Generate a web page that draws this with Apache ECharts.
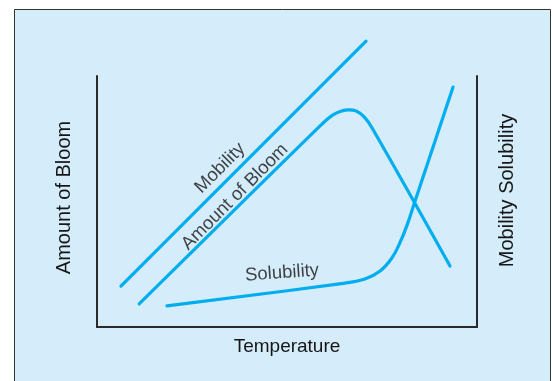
<!DOCTYPE html>
<html>
<head>
<meta charset="utf-8">
<script src="https://cdn.jsdelivr.net/npm/echarts@6/dist/echarts.min.js"></script>
<style>
html,body{margin:0;padding:0;background:#fff;}
#c{width:552px;height:381px;}
</style>
</head>
<body>
<div id="c"></div>
<script>
// Data in arbitrary units (Temperature 0-100, relative amount 0-100)
const mobility = [[6.3, 16.3], [70.8, 113.9]];
const bloom = [[11.1, 9.2], [58.7, 80.1], [62.1, 84.5], [64.5, 86.1], [66.3, 86.5], [68.2, 86.1], [70.3, 83.7], [72.4, 79.3], [92.9, 24.3]];
const solubility = [[18.4, 8.4], [65.3, 17.5], [70.5, 19.1], [74.5, 22.3], [77.6, 27.5], [79.7, 33.5], [81.6, 40.6], [83.7, 50.2], [93.7, 95.6]];
const curveLabels = ['Mobility', 'Amount of Bloom', 'Solubility'];
const xName = 'Temperature';
const yLeftName = 'Amount of Bloom';
const yRightName = 'Mobility Solubility';

// label anchors (data units) and rotations
const labelAnchors = [[32.4, 63.3], [36.3, 51.8], [48.7, 21.5]];
const labelRot = [45, 45, 4];

const FONT = 'Liberation Sans, Arial, Helvetica, sans-serif';
const LINE = '#00aeef';
const TXT = '#161616';
const chart = echarts.init(document.getElementById('c'), null, {renderer: 'canvas'});

const lineStyle = {color: LINE, width: 3.2, cap: 'round', join: 'round'};
const axisLine = {show: true, lineStyle: {color: '#2a2a2a', width: 2}};

chart.setOption({
  backgroundColor: '#ffffff',
  animation: false,
  graphic: [{
    type: 'rect', z: -10, silent: true,
    shape: {x: 14.5, y: 9.5, width: 536, height: 380},
    style: {fill: '#d5ecfa', stroke: '#333', lineWidth: 1}
  }],
  grid: {left: 97, right: 75, top: 76, bottom: 54},
  xAxis: {
    type: 'value', min: 0, max: 100,
    axisLine: axisLine, axisTick: {show: false}, axisLabel: {show: false}, splitLine: {show: false},
    name: xName, nameLocation: 'middle', nameGap: 10,
    nameTextStyle: {color: TXT, fontSize: 19, fontFamily: FONT, verticalAlign: 'top'}
  },
  yAxis: [{
    type: 'value', min: 0, max: 100, position: 'left',
    axisLine: axisLine, axisTick: {show: false}, axisLabel: {show: false}, splitLine: {show: false},
    name: yLeftName, nameLocation: 'middle', nameGap: 23, nameRotate: 90,
    nameTextStyle: {color: TXT, fontSize: 20, fontFamily: FONT, padding: [0, 0, 0, 8]}
  }, {
    type: 'value', min: 0, max: 100, position: 'right',
    axisLine: axisLine, axisTick: {show: false}, axisLabel: {show: false}, splitLine: {show: false},
    name: yRightName, nameLocation: 'middle', nameGap: 20, nameRotate: 90,
    nameTextStyle: {color: TXT, fontSize: 20, fontFamily: FONT, padding: [0, 0, 0, 22]}
  }],
  series: [
    {type: 'line', name: 'Mobility', data: mobility, showSymbol: false, clip: false, lineStyle: lineStyle},
    {type: 'line', name: 'Amount of Bloom', data: bloom, showSymbol: false, clip: false, smooth: 0.4, lineStyle: lineStyle},
    {type: 'line', name: 'Solubility', data: solubility, showSymbol: false, clip: false, smooth: 0.4, lineStyle: lineStyle},
    {
      type: 'scatter', symbolSize: 0, silent: true, clip: false,
      data: curveLabels.map((n, i) => ({
        name: n, value: labelAnchors[i],
        label: {show: true, position: 'inside', rotate: labelRot[i], formatter: n,
          color: TXT, fontSize: 18.5, fontFamily: FONT}
      }))
    }
  ]
});
</script>
</body>
</html>
